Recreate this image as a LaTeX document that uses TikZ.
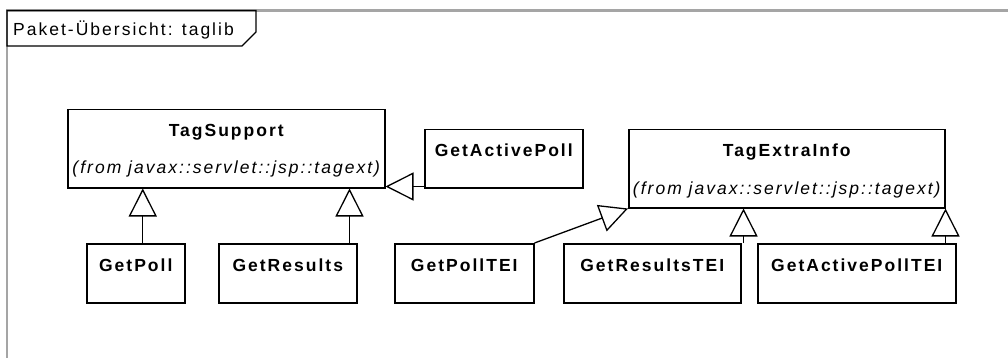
\documentclass[tikz,border=0pt]{standalone}
\usepackage{fontspec}
\setmainfont{Liberation Sans}[LetterSpace=11.5]
\usepackage{tikz}
\usetikzlibrary{arrows.meta,positioning}
\definecolor{framegray}{RGB}{165,165,165}

\begin{document}
\begin{tikzpicture}[x=1pt,y=-1pt,font=\fontsize{17.5}{20}\selectfont,
  cls/.style={draw,line width=1.5pt,anchor=north west,inner sep=0pt,
              minimum height=59pt},
  cname/.style={anchor=base,inner sep=0pt,font=\fontsize{17.5}{20}\selectfont\bfseries},
  cfrom/.style={anchor=base,inner sep=0pt,font=\fontsize{17.5}{20}\selectfont\itshape},
  inherit/.style={-{Triangle[open,length=28pt,width=28pt]},line width=1.3pt}]
  \useasboundingbox (0,0) rectangle (1008,358);
  % package frame and tab
  \draw[framegray,line width=2.5pt] (7,358) -- (7,10.5) -- (1008,10.5);
  \draw[line width=1.4pt] (7,10.5) -- (256,10.5) -- (256,32) -- (242,46) -- (7,46) -- cycle;
  \node[anchor=base west,inner sep=0pt] (title) at (13,36) {Paket-Übersicht: taglib};
  % base classes
  \node[cls,minimum width=317pt,minimum height=78pt] (tagsupport) at (67,109) {};
  \node[cname] (tagsupport-name) at ([yshift=-28pt]tagsupport.north) {TagSupport};
  \node[cfrom] (tagsupport-from) at ([yshift=-65pt]tagsupport.north) {(from javax::servlet::jsp::tagext)};
  \node[cls,minimum width=316pt,minimum height=78pt] (tagextrainfo) at (628,129) {};
  \node[cname] (tagextrainfo-name) at ([yshift=-28pt]tagextrainfo.north) {TagExtraInfo};
  \node[cfrom] (tagextrainfo-from) at ([yshift=-65pt]tagextrainfo.north) {(from javax::servlet::jsp::tagext)};
  % tags
  \node[cls,minimum width=158pt,minimum height=58pt] (getactivepoll) at (424,129) {};
  \node[cname] (getactivepoll-name) at ([yshift=-28pt]getactivepoll.north) {GetActivePoll};
  \node[cls,minimum width=98pt] (getpoll) at (86,243) {};
  \node[cname] (getpoll-name) at ([yshift=-28pt]getpoll.north) {GetPoll};
  \node[cls,minimum width=138pt] (getresults) at (218,243) {};
  \node[cname] (getresults-name) at ([yshift=-28pt]getresults.north) {GetResults};
  % extra info classes
  \node[cls,minimum width=139pt] (getpolltei) at (394,243) {};
  \node[cname] (getpolltei-name) at ([yshift=-28pt]getpolltei.north) {GetPollTEI};
  \node[cls,minimum width=177pt] (getresultstei) at (563,243) {};
  \node[cname] (getresultstei-name) at ([yshift=-28pt]getresultstei.north) {GetResultsTEI};
  \node[cls,minimum width=198pt] (getactivepolltei) at (757,243) {};
  \node[cname] (getactivepolltei-name) at ([yshift=-28pt]getactivepolltei.north) {GetActivePollTEI};
  % generalizations
  \draw[inherit] ([xshift=7pt]getpoll.north) -- ([xshift=7pt]getpoll.north |- tagsupport.south);
  \draw[inherit] ([xshift=-8pt]getresults.north east) -- ([xshift=-8pt]getresults.north east |- tagsupport.south);
  \draw[inherit] ([yshift=2pt]getactivepoll.south west) -- ([yshift=2pt]getactivepoll.south west -| tagsupport.east);
  \draw[inherit] (getpolltei.north east) -- (tagextrainfo.south west);
  \draw[inherit] ([xshift=2pt]getresultstei.north east) -- ([xshift=2pt]getresultstei.north east |- tagextrainfo.south);
  \draw[inherit] (tagextrainfo.south east |- getactivepolltei.north) -- (tagextrainfo.south east);
\end{tikzpicture}
\end{document}
